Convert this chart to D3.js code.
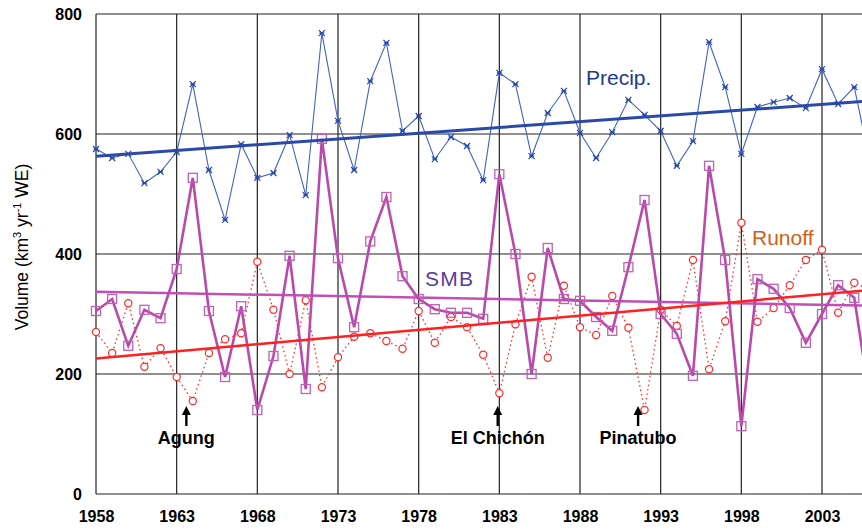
<!DOCTYPE html>
<html>
<head>
<meta charset="utf-8">
<script src="https://cdn.jsdelivr.net/npm/d3@7"></script>
<style>
  body { margin: 0; background: #fff; }
  svg { display: block; }
  .tick text { font-family: "Liberation Sans Narrow", "Arial Narrow", "Liberation Sans", sans-serif; font-weight: bold; font-size: 16px; }
</style>
</head>
<body>
<svg width="862" height="531"></svg>
<script>
// years 1958 - 2006 (last one falls off the cropped right edge)
var years = d3.range(1958, 2007);

var precip = [575, 560, 567, 518, 537, 570, 683, 540, 457, 583,
              527, 535, 598, 498, 768, 622, 540, 688, 752, 605,
              630, 558, 595, 580, 523, 702, 683, 563, 635, 672,
              602, 560, 603, 657, 632, 605, 547, 588, 753, 678,
              567, 645, 653, 660, 643, 708, 650, 678, 550];

var smb    = [305, 325, 247, 307, 293, 375, 527, 305, 195, 313,
              140, 230, 397, 175, 592, 393, 278, 421, 495, 363,
              325, 308, 302, 302, 292, 533, 400, 200, 410, 325,
              322, 295, 272, 378, 490, 300, 267, 197, 547, 390,
              113, 358, 342, 310, 252, 300, 348, 327, 150];

var runoff = [270, 235, 318, 212, 243, 195, 155, 235, 258, 268,
              387, 307, 200, 323, 178, 228, 262, 268, 255, 242,
              305, 252, 295, 278, 232, 168, 283, 362, 227, 347,
              278, 265, 330, 277, 140, 307, 280, 390, 208, 288,
              452, 287, 310, 348, 390, 407, 302, 352, 340];

// linear trends, end points
var precipTrend = [[1958, 563], [2006, 655]];
var smbTrend    = [[1958, 337], [2006, 314]];
var runoffTrend = [[1958, 226], [2006, 340]];

var xTicks = d3.range(1958, 2008, 5);
var yTicks = [0, 200, 400, 600, 800];

var notes = [
  {name: "Agung", year: 1963.6},
  {name: "El Chichón", year: 1982.9},
  {name: "Pinatubo", year: 1991.6}
];

var svg = d3.select("svg");

var x = d3.scaleLinear().domain([1958, 2003]).range([96, 822]);
var y = d3.scaleLinear().domain([0, 800]).range([494, 14]);
var right = x(2008);

// grid
var grid = svg.append("g");
grid.selectAll(".vg").data(xTicks).join("line")
  .attr("x1", d => x(d)).attr("x2", d => x(d))
  .attr("y1", y(800)).attr("y2", y(0))
  .attr("stroke", "#222").attr("stroke-width", 1.2);
grid.selectAll(".hg").data(yTicks).join("line")
  .attr("x1", x(1958)).attr("x2", right)
  .attr("y1", d => y(d)).attr("y2", d => y(d))
  .attr("stroke", "#222").attr("stroke-width", 1.2);

// axes (labels only)
var xAxis = svg.append("g").attr("transform", "translate(0," + y(0) + ")")
  .call(d3.axisBottom(x).tickValues(xTicks).tickFormat(d3.format("d")).tickSize(0).tickPadding(17));
xAxis.select(".domain").remove();
xAxis.selectAll("text").attr("fill", "#000");

var yAxis = svg.append("g").attr("transform", "translate(" + x(1958) + ",0)")
  .call(d3.axisLeft(y).tickValues(yTicks).tickSize(0).tickPadding(14));
yAxis.select(".domain").remove();
yAxis.selectAll("text").attr("fill", "#000");

svg.append("text")
  .attr("transform", "translate(28,247) rotate(-90)")
  .attr("text-anchor", "middle")
  .style("font-family", "Liberation Sans, Arial, sans-serif")
  .style("font-size", "17.5px")
  .html('Volume (km<tspan dy="-7" font-size="11">3</tspan><tspan dy="7"> yr</tspan><tspan dy="-7" font-size="11">-1</tspan><tspan dy="7"> WE)</tspan>');

var line = d3.line().x((d, i) => x(years[i])).y(d => y(d));
var tline = d3.line().x(d => x(d[0])).y(d => y(d[1]));

// runoff
svg.append("path").datum(runoff).attr("d", line)
  .attr("fill", "none").attr("stroke", "#ff2a2a").attr("stroke-width", 1.3)
  .attr("stroke-dasharray", "1.5,3");
svg.selectAll(".ro").data(runoff).join("circle")
  .attr("cx", (d, i) => x(years[i])).attr("cy", d => y(d)).attr("r", 3.6)
  .attr("fill", "#fff").attr("stroke", "#ff2a2a").attr("stroke-width", 1.2);

// SMB
svg.append("path").datum(smbTrend).attr("d", tline)
  .attr("fill", "none").attr("stroke", "#c050b8").attr("stroke-width", 2.5);
svg.append("path").datum(smb).attr("d", line)
  .attr("fill", "none").attr("stroke", "#b84aaa").attr("stroke-width", 2.6);
svg.selectAll(".sm").data(smb).join("rect")
  .attr("x", (d, i) => x(years[i]) - 4.5).attr("y", d => y(d) - 4.5)
  .attr("width", 9).attr("height", 9)
  .attr("fill", "none").attr("stroke", "#c060b8").attr("stroke-width", 1.3);

// runoff trend
svg.append("path").datum(runoffTrend).attr("d", tline)
  .attr("fill", "none").attr("stroke", "#ff2020").attr("stroke-width", 2.5);

// precip
svg.append("path").datum(precip).attr("d", line)
  .attr("fill", "none").attr("stroke", "#4064c0").attr("stroke-width", 1.1);
svg.selectAll(".pm").data(precip).join("path")
  .attr("transform", (d, i) => "translate(" + x(years[i]) + "," + y(d) + ")")
  .attr("d", "M-3,-3L3,3M-3,3L3,-3M-2.5,0L2.5,0")
  .attr("stroke", "#2848a8").attr("stroke-width", 1.2);
svg.append("path").datum(precipTrend).attr("d", tline)
  .attr("fill", "none").attr("stroke", "#2a4aa8").attr("stroke-width", 3);

// series labels
var lab = svg.append("g").style("font-family", "Liberation Sans, Arial, sans-serif").style("font-size", "21px");
lab.append("text").attr("x", 586).attr("y", 85).attr("fill", "#1e3a8c").text("Precip.");
lab.append("text").attr("x", 425).attr("y", 286).attr("fill", "#5a3c9c").attr("textLength", 48).text("SMB");
lab.append("text").attr("x", 752).attr("y", 245).attr("fill", "#d0601a").text("Runoff");

// volcano notes
var nt = svg.selectAll(".note").data(notes).join("g")
  .attr("transform", d => "translate(" + x(d.year) + ",0)");
nt.append("line").attr("x1", 0).attr("x2", 0).attr("y1", 412).attr("y2", 426)
  .attr("stroke", "#000").attr("stroke-width", 2.4);
nt.append("path").attr("d", "M-4.5,415L0,406L4.5,415Z").attr("fill", "#000");
nt.append("text").attr("x", 0).attr("y", 444).attr("text-anchor", "middle")
  .style("font-family", "Liberation Sans, Arial, sans-serif").style("font-weight", "bold")
  .style("font-size", "18px").text(d => d.name);
</script>
</body>
</html>
